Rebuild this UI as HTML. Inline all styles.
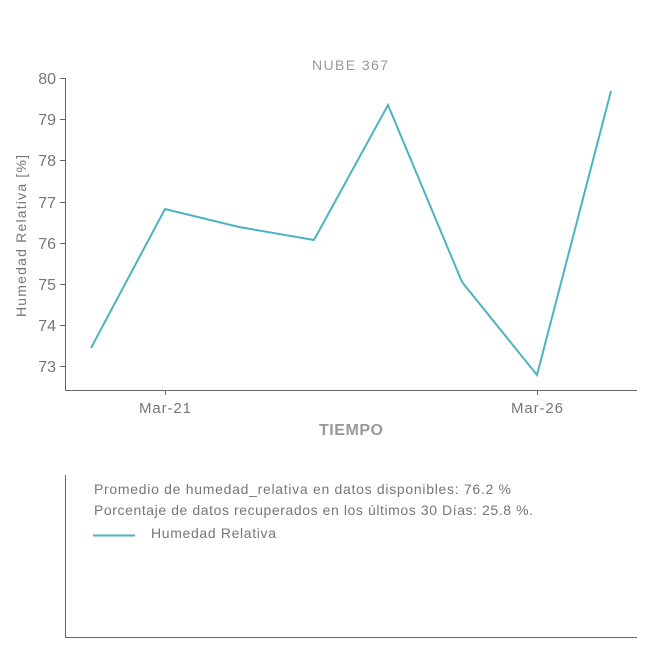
<!DOCTYPE html>
<html><head><meta charset="utf-8"><style>
body{margin:0;background:#fff;}
svg text{font-family:"Liberation Sans",sans-serif;}
</style></head><body>
<svg width="650" height="650" viewBox="0 0 650 650" xmlns="http://www.w3.org/2000/svg">
<rect width="650" height="650" fill="#fff"/>
<text x="350" y="70" text-anchor="middle" font-size="14" fill="#999" textLength="76">NUBE 367</text>
<g stroke="#666" stroke-width="1" fill="none">
<line x1="65.5" y1="78" x2="65.5" y2="390"/>
<line x1="65" y1="390.5" x2="637" y2="390.5"/>
<line x1="60" y1="78.5" x2="65" y2="78.5"/>
<line x1="60" y1="119.5" x2="65" y2="119.5"/>
<line x1="60" y1="160.5" x2="65" y2="160.5"/>
<line x1="60" y1="202.5" x2="65" y2="202.5"/>
<line x1="60" y1="243.5" x2="65" y2="243.5"/>
<line x1="60" y1="284.5" x2="65" y2="284.5"/>
<line x1="60" y1="325.5" x2="65" y2="325.5"/>
<line x1="60" y1="366.5" x2="65" y2="366.5"/>
<line x1="165.5" y1="390" x2="165.5" y2="395"/>
<line x1="537.5" y1="390" x2="537.5" y2="395"/>
<line x1="65.5" y1="475" x2="65.5" y2="637"/>
<line x1="65" y1="637.5" x2="637" y2="637.5"/>
</g>
<g font-size="16" fill="#777" text-anchor="end">
<text x="56" y="84">80</text><text x="56" y="125">79</text><text x="56" y="166">78</text>
<text x="56" y="208">77</text><text x="56" y="249">76</text><text x="56" y="290">75</text>
<text x="56" y="331">74</text><text x="56" y="372">73</text>
</g>
<text transform="translate(26,236) rotate(-90)" text-anchor="middle" font-size="14" fill="#777" textLength="162">Humedad Relativa [%]</text>
<text x="165" y="413" text-anchor="middle" font-size="15" fill="#777" textLength="52">Mar-21</text>
<text x="537" y="413" text-anchor="middle" font-size="15" fill="#777" textLength="52">Mar-26</text>
<text x="351" y="435" text-anchor="middle" font-size="16" font-weight="bold" fill="#999" textLength="64">TIEMPO</text>
<polyline fill="none" stroke="#4db3bf" stroke-width="2" points="91,348 165,209 239,227 314,240 388,105 462,282 537,375 611,91"/>
<text x="94" y="494" font-size="14" fill="#777" textLength="417">Promedio de humedad_relativa en datos disponibles: 76.2 %</text>
<text x="94" y="515" font-size="14" fill="#777" textLength="439">Porcentaje de datos recuperados en los últimos 30 Días: 25.8 %.</text>
<line x1="93" y1="535.5" x2="135" y2="535.5" stroke="#4db3bf" stroke-width="2"/>
<text x="151" y="538" font-size="14" fill="#777" textLength="125">Humedad Relativa</text>
</svg>
</body></html>
